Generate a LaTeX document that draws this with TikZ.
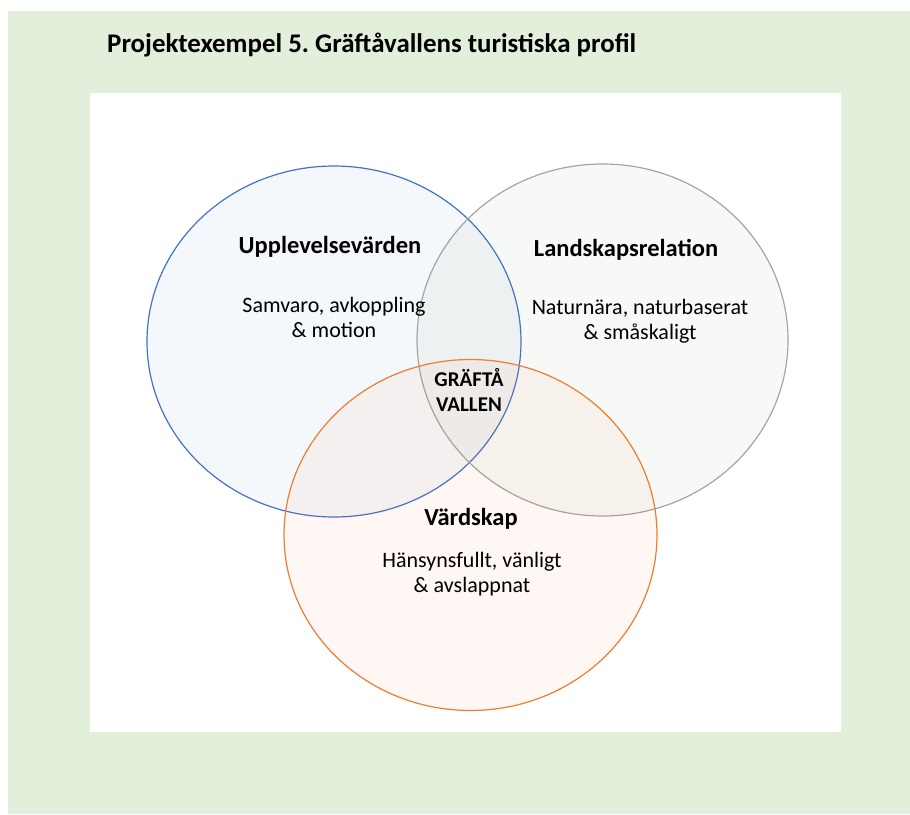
\documentclass[tikz,border=0pt]{standalone}
\usepackage{fontspec}
\setmainfont{Carlito}
\frenchspacing
\begin{document}
\begin{tikzpicture}[x=1pt,y=-1pt,
  every node/.style={inner sep=0pt, align=center, text=black},
  ring/.style={line width=1.2pt, fill opacity=0.055},
  heading/.style={font=\fontsize{24.5}{28}\selectfont\bfseries},
  body/.style={font=\fontsize{22}{25}\selectfont},
  core/.style={font=\fontsize{21}{24.5}\selectfont\bfseries}]
  \definecolor{panelgreen}{HTML}{E2EFDA}
  \definecolor{ringblue}{HTML}{4472C4}
  \definecolor{ringgray}{HTML}{A5A5A5}
  \definecolor{ringgrayfill}{HTML}{7F9A60}
  \definecolor{ringorange}{HTML}{ED7D31}
  \useasboundingbox (0,0) rectangle (910,814);
  \fill[white] (0,0) rectangle (910,814);
  % panel and white canvas
  \fill[panelgreen] (8,11) rectangle (910,814);
  \fill[white] (90,93) rectangle (841,732);
  % title
  \node[anchor=base west, font=\fontsize{26.9}{30}\selectfont\bfseries] (title) at (107,52)
    {Projektexempel 5. Gräftåvallens turistiska profil};
  % the three circles
  \path[ring, draw=ringblue, fill=ringblue] (334,341.5) ellipse [x radius=187, y radius=175.5];
  \path[ring, draw=ringgray, fill=ringgrayfill] (602.5,340) ellipse [x radius=185.5, y radius=176];
  \path[ring, draw=ringorange, fill=ringorange] (470.5,535) ellipse [x radius=186.5, y radius=175.5];
  % labels
  \node[heading] (upp) at (330,247) {Upplevelsevärden};
  \node[body] (uppt) at (334,317) {Samvaro, avkoppling\\\& motion};
  \node[heading] (land) at (626,250) {Landskapsrelation};
  \node[body] (landt) at (640,321) {Naturnära, naturbaserat\\\& småskaligt};
  \node[core] (core) at (469,390) {GRÄFTÅ\\VALLEN};
  \node[heading] (vard) at (471,519) {Värdskap};
  \node[body] (vardt) at (472,574) {Hänsynsfullt, vänligt\\\& avslappnat};
\end{tikzpicture}
\end{document}
